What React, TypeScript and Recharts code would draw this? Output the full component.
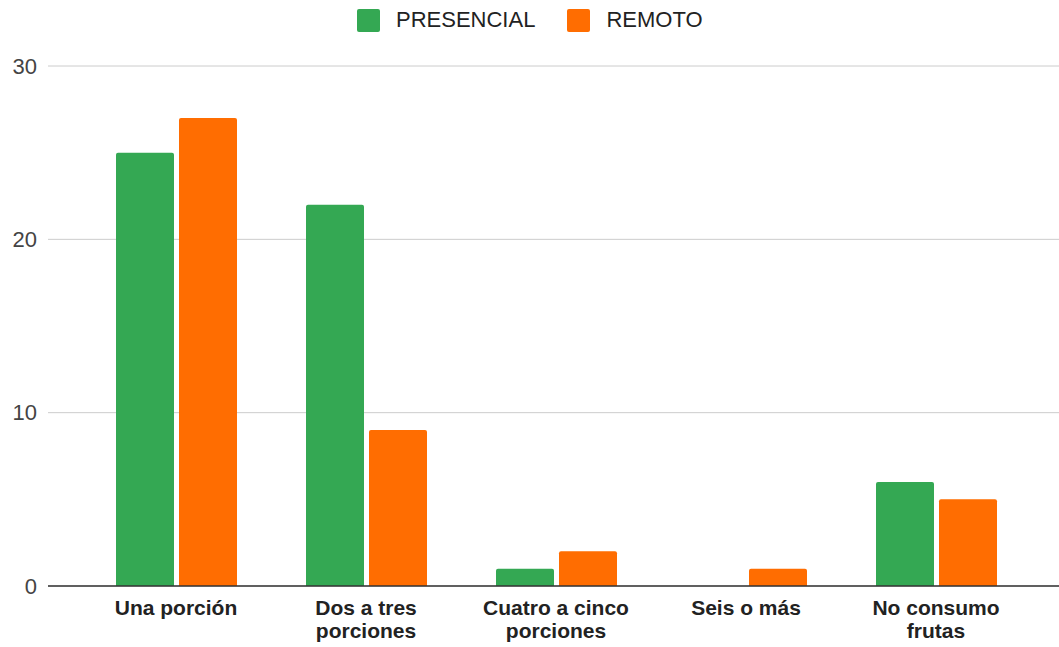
import { BarChart, Bar, XAxis, YAxis, CartesianGrid, ReferenceLine } from 'recharts';

const CATEGORIES = ['Una porción', 'Dos a tres\nporciones', 'Cuatro a cinco\nporciones', 'Seis o más', 'No consumo\nfrutas'];
const PRESENCIAL = [25, 22, 1, 0, 6];
const REMOTO = [27, 9, 2, 1, 5];
const Y_TICKS = [0, 10, 20, 30];

const GREEN = '#34a853';
const ORANGE = '#ff6d01';
const FONT = '"Liberation Sans", Arial, sans-serif';

const data = CATEGORIES.map((name, i) => ({
  name,
  presencial: PRESENCIAL[i],
  remoto: REMOTO[i],
}));

function CategoryTick({ x, y, payload }: any) {
  const lines = String(payload.value).split('\n');
  return (
    <text x={x} y={y} textAnchor="middle" fontFamily={FONT} fontSize={21} fontWeight="bold" fill="#222">
      {lines.map((line, i) => (
        <tspan key={i} x={x} dy={i === 0 ? 21 : 23}>
          {line}
        </tspan>
      ))}
    </text>
  );
}

function TopLegend() {
  const items = [
    { label: 'PRESENCIAL', color: GREEN },
    { label: 'REMOTO', color: ORANGE },
  ];
  return (
    <div
      style={{
        position: 'absolute',
        top: 7,
        left: 357,
        display: 'flex',
        gap: 32,
        fontFamily: FONT,
        fontSize: 22,
        color: '#222',
      }}
    >
      {items.map((it) => (
        <div key={it.label} style={{ display: 'flex', alignItems: 'center' }}>
          <span style={{ width: 23, height: 23, background: it.color, borderRadius: 2, marginRight: 16 }} />
          <span>{it.label}</span>
        </div>
      ))}
    </div>
  );
}

export default function App() {
  return (
    <div style={{ position: 'absolute', left: 0, top: 0, width: 1059, height: 647, background: '#fff' }}>
      <BarChart
        width={1059}
        height={647}
        data={data}
        margin={{ top: 66, right: 0, bottom: 0, left: 0 }}
        barSize={58}
        barGap={5}
      >
        <CartesianGrid vertical={false} stroke="#cccccc" />
        <XAxis
          dataKey="name"
          height={61}
          interval={0}
          axisLine={false}
          tickLine={false}
          padding={{ left: 33, right: 28 }}
          tick={<CategoryTick />}
        />
        <YAxis
          width={48}
          domain={[0, 30]}
          ticks={Y_TICKS}
          axisLine={false}
          tickLine={false}
          tickSize={0}
          tickMargin={11}
          tick={{ fontFamily: FONT, fontSize: 22, fill: '#444' }}
        />
        <Bar dataKey="presencial" name="PRESENCIAL" fill={GREEN} radius={[2, 2, 0, 0]} isAnimationActive={false} />
        <Bar dataKey="remoto" name="REMOTO" fill={ORANGE} radius={[2, 2, 0, 0]} isAnimationActive={false} />
        <ReferenceLine y={0} stroke="#333" strokeWidth={1.5} />
      </BarChart>
      <TopLegend />
    </div>
  );
}
